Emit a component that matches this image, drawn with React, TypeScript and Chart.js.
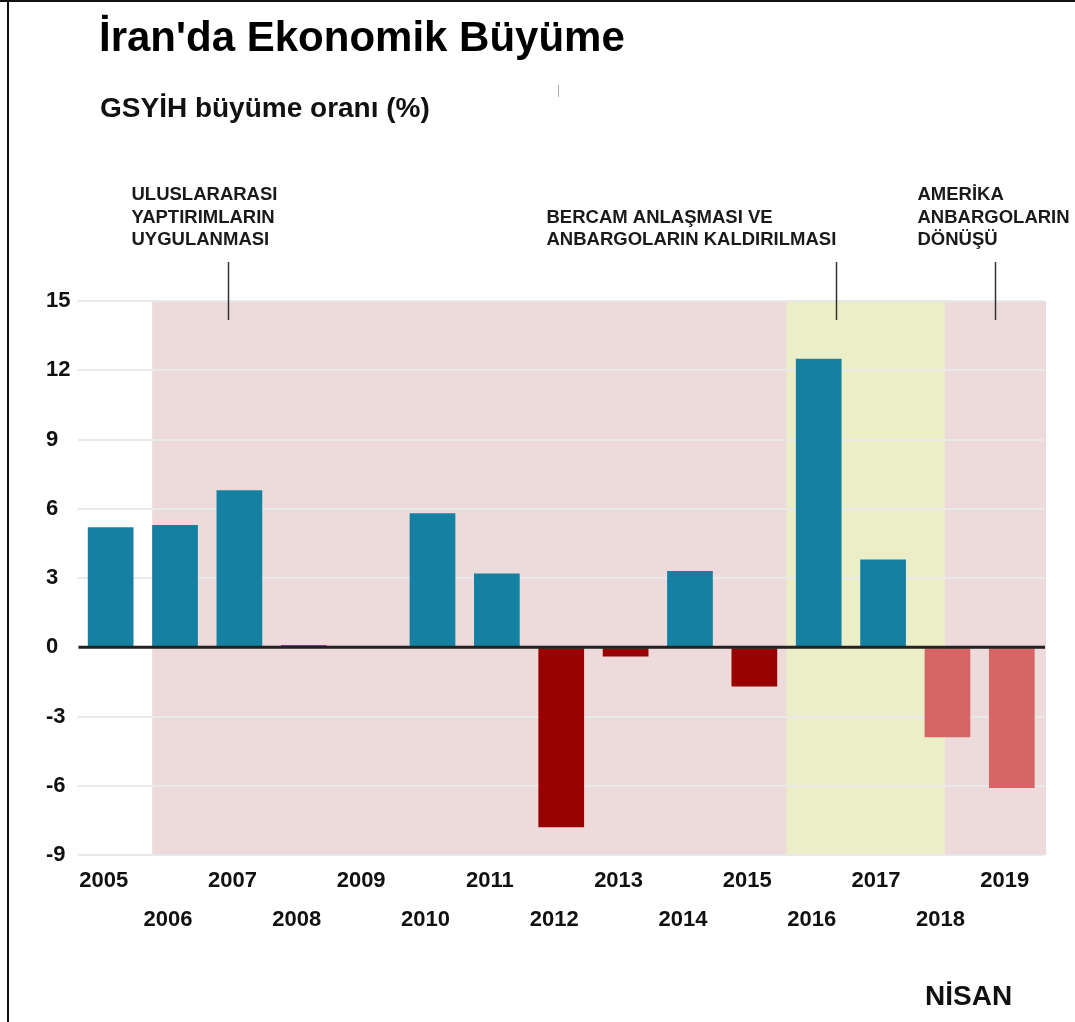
import React, { useEffect, useRef } from 'react';
import { Chart, registerables } from 'chart.js';

Chart.register(...registerables);

// ---- data ----
const years = ['2005', '2006', '2007', '2008', '2009', '2010', '2011', '2012', '2013', '2014', '2015', '2016', '2017', '2018', '2019'];
const growth = [5.2, 5.3, 6.8, 0.1, 0, 5.8, 3.2, -7.8, -0.4, 3.3, -1.7, 12.5, 3.8, -3.9, -6.1];
const yMin = -9;
const yMax = 15;
const yStep = 3;
const lightRedFrom = 2018;

const titleText = "İran'da Ekonomik Büyüme";
const subtitleText = 'GSYİH büyüme oranı (%)';
const footText = 'NİSAN';

const eventLabels = [
  ['ULUSLARARASI', 'YAPTIRIMLARIN', 'UYGULANMASI'],
  ['BERCAM ANLAŞMASI VE', 'ANBARGOLARIN KALDIRILMASI'],
  ['AMERİKA', 'ANBARGOLARIN', 'DÖNÜŞÜ'],
];
// event marker positions on the category axis (fractional index)
const eventAt = [1.825, 11.27, 13.74];

// ---- styles ----
const FONT = '"Liberation Sans", Arial, Helvetica, sans-serif';
const BLUE = '#1580a1';
const DARK_RED = '#990000';
const LIGHT_RED = '#d66666';
const PINK = '#eddada';
const YELLOW = '#eceec8';
const bands = [
  { from: 0.645, to: 14.53, color: PINK },
  { from: 10.5, to: 12.96, color: YELLOW },
];
const eventTextOffset = [-97, -290, -78];

const decorPlugin = {
  id: 'decor',
  beforeDraw(chart: any) {
    const { ctx, chartArea: a, scales } = chart;
    const x = scales.x;
    ctx.save();
    bands.forEach((b) => {
      const x0 = x.getPixelForValue(b.from);
      const x1 = x.getPixelForValue(b.to);
      ctx.fillStyle = b.color;
      ctx.fillRect(x0, a.top, x1 - x0, a.bottom - a.top);
    });
    ctx.restore();
  },
  afterDatasetsDraw(chart: any) {
    const { ctx, chartArea: a, scales } = chart;
    const x = scales.x;
    const y = scales.y;
    ctx.save();
    // zero line
    const y0 = y.getPixelForValue(0);
    ctx.fillStyle = '#222';
    ctx.fillRect(a.left, y0 - 1.5, a.right - a.left + 1, 3);
    // event markers
    ctx.strokeStyle = '#333';
    ctx.lineWidth = 1.5;
    ctx.fillStyle = '#1a1a1a';
    ctx.font = `bold 18.5px ${FONT}`;
    ctx.textBaseline = 'alphabetic';
    ctx.textAlign = 'left';
    eventAt.forEach((pos, i) => {
      const px = Math.round(x.getPixelForValue(pos)) + 0.5;
      ctx.beginPath();
      ctx.moveTo(px, a.top - 39);
      ctx.lineTo(px, a.top + 19);
      ctx.stroke();
      const lines = eventLabels[i];
      const lastBase = a.top - 56;
      lines.forEach((ln, j) => {
        const base = lastBase - (lines.length - 1 - j) * 22.5;
        ctx.fillText(ln, px + eventTextOffset[i], base);
      });
    });
    ctx.restore();
  },
};

export default function App() {
  const ref = useRef<HTMLCanvasElement | null>(null);

  useEffect(() => {
    if (!ref.current) return;
    const colors = growth.map((v, i) =>
      v >= 0 ? BLUE : Number(years[i]) >= lightRedFrom ? LIGHT_RED : DARK_RED
    );
    const chart = new Chart(ref.current, {
      type: 'bar',
      data: {
        labels: years,
        datasets: [
          {
            data: growth,
            backgroundColor: colors,
            borderWidth: 0,
            categoryPercentage: 1,
            barPercentage: 0.71,
          },
        ],
      },
      options: {
        animation: false,
        responsive: false,
        devicePixelRatio: 1,
        layout: { padding: { left: 46, right: 31, top: 301, bottom: 77 } },
        plugins: {
          legend: { display: false },
          tooltip: { enabled: false },
          title: { display: false },
        },
        scales: {
          x: {
            grid: { display: false, drawTicks: false },
            border: { display: false },
            ticks: {
              autoSkip: false,
              maxRotation: 0,
              minRotation: 0,
              padding: 6,
              labelOffset: -7,
              color: '#111',
              font: { family: FONT, size: 22, weight: 'bold', lineHeight: '39px' as any },
              callback: (_v: any, i: number) => (i % 2 === 0 ? [years[i], ''] : ['', years[i]]),
            },
          },
          y: {
            min: yMin,
            max: yMax,
            grid: {
              color: '#e9e9e9',
              lineWidth: 2,
              drawTicks: false,
            },
            border: { display: false },
            ticks: {
              stepSize: yStep,
              padding: 4,
              crossAlign: 'far',
              color: '#111',
              font: { family: FONT, size: 22, weight: 'bold' },
            },
          },
        },
      },
      plugins: [decorPlugin],
    });
    return () => chart.destroy();
  }, []);

  return (
    <div
      style={{
        position: 'fixed',
        left: 0,
        top: 0,
        width: 1075,
        height: 1022,
        background: '#fff',
        overflow: 'hidden',
        fontFamily: FONT,
      }}
    >
      <canvas ref={ref} width={1075} height={1022} style={{ position: 'absolute', left: 0, top: 0, width: 1075, height: 1022 }} />
      <div style={{ position: 'absolute', left: 0, top: 0, width: 1075, height: 2, background: '#111' }} />
      <div style={{ position: 'absolute', left: 7, top: 0, width: 2, height: 1022, background: '#111' }} />
      <div style={{ position: 'absolute', left: 558, top: 85, width: 1, height: 12, background: '#aaa' }} />
      <div
        style={{
          position: 'absolute',
          left: 99,
          top: 16,
          fontSize: 42,
          lineHeight: '42px',
          fontWeight: 'bold',
          color: '#000',
          whiteSpace: 'nowrap',
        }}
      >
        {titleText}
      </div>
      <div
        style={{
          position: 'absolute',
          left: 100,
          top: 94,
          fontSize: 28,
          lineHeight: '28px',
          fontWeight: 'bold',
          color: '#111',
          whiteSpace: 'nowrap',
        }}
      >
        {subtitleText}
      </div>
      <div
        style={{
          position: 'absolute',
          left: 925,
          top: 982,
          fontSize: 28,
          lineHeight: '28px',
          fontWeight: 'bold',
          color: '#111',
          whiteSpace: 'nowrap',
        }}
      >
        {footText}
      </div>
    </div>
  );
}
